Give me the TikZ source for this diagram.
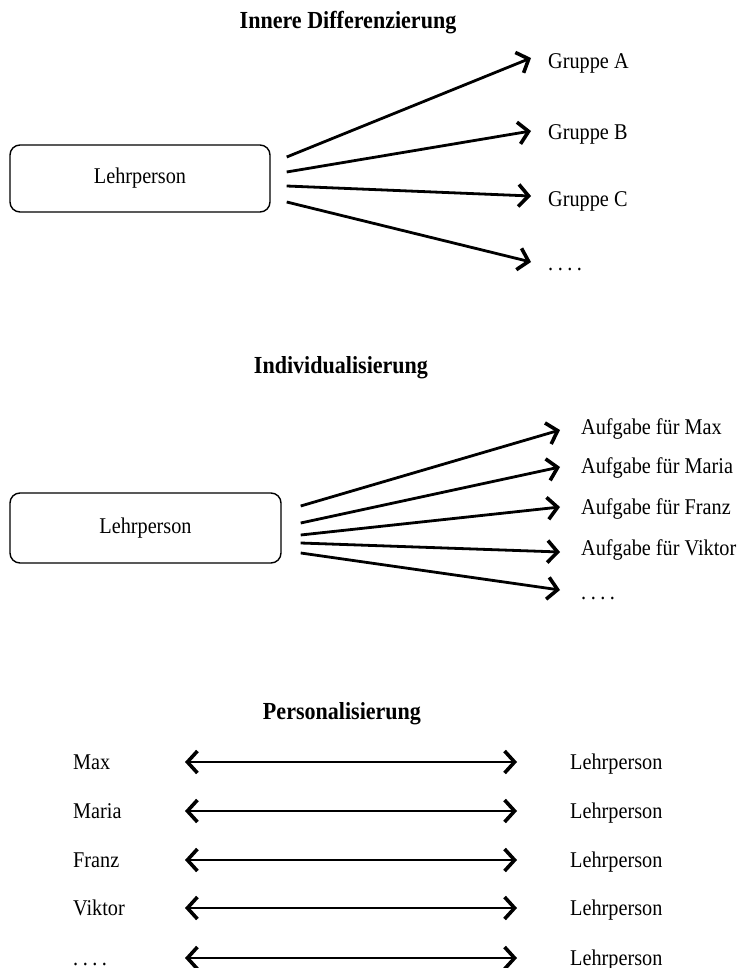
\documentclass[tikz,border=0pt]{standalone}
\usepackage{fontspec}
\setmainfont{Liberation Serif}[FakeStretch=0.9]
\usetikzlibrary{positioning,arrows.meta,calc}
\newcommand\pdots{.\hspace{4.5pt}.\hspace{4.5pt}.\hspace{4.5pt}.}

\begin{document}
\begin{tikzpicture}[
    x=1pt, y=-1pt,
    base/.style={text=black,font={\fontsize{22.5}{26}\selectfont},inner sep=0pt,anchor=base west},
    title/.style={base,anchor=base,font={\fontsize{24.5}{28}\selectfont\bfseries}},
    teacher/.style={base,anchor=center,draw,line width=1.4pt,rounded corners=10pt},
    tip/.tip={Straight Barb[length=10pt,width=22pt,line width=3.6pt]},
    link/.style={line width=2.8pt,-tip},
    both/.style={line width=2.8pt,tip-tip},
]
    \useasboundingbox (0,0) rectangle (747,968);

    % Innere Differenzierung
    \node[title] (title1) at (348,29) {Innere Differenzierung};
    \node[teacher,minimum width=260pt,minimum height=67pt] (lp1) at (140,178.5) {Lehrperson};

    \node[base] (ga) at (548,69)  {Gruppe A};
    \node[base] (gb) at (548,140) {Gruppe B};
    \node[base] (gc) at (548,207) {Gruppe C};
    \node[base] (gd) at (548,270) {\pdots};

    \draw[link] ($(lp1.east)+(16,-21.5)$) -- ($(ga.base west)+(-17,-11)$);
    \draw[link] ($(lp1.east)+(16,-6.5)$)  -- ($(gb.base west)+(-17,-9)$);
    \draw[link] ($(lp1.east)+(16,7.5)$)   -- ($(gc.base west)+(-17,-11)$);
    \draw[link] ($(lp1.east)+(16,23.5)$)  -- ($(gd.base west)+(-17,-8)$);

    % Individualisierung
    \node[title] (title2) at (341,373) {Individualisierung};
    \node[teacher,minimum width=271pt,minimum height=70pt] (lp2) at (145.5,528) {Lehrperson};

    \node[base] (amax)    at (581,434) {Aufgabe für Max};
    \node[base] (amaria)  at (581,473) {Aufgabe für Maria};
    \node[base] (afranz)  at (581,514) {Aufgabe für Franz};
    \node[base] (aviktor) at (581,555) {Aufgabe für Viktor};
    \node[base] (arest)   at (581,599) {\pdots};

    \draw[link] ($(lp2.east)+(19,-22)$) -- ($(amax.base west)+(-21,-4)$);
    \draw[link] ($(lp2.east)+(19,-5)$)  -- ($(amaria.base west)+(-21,-6)$);
    \draw[link] ($(lp2.east)+(19,7)$)   -- ($(afranz.base west)+(-21,-7)$);
    \draw[link] ($(lp2.east)+(19,15)$)  -- ($(aviktor.base west)+(-21,-3)$);
    \draw[link] ($(lp2.east)+(19,25)$)  -- ($(arest.base west)+(-21,-9)$);

    % Personalisierung
    \node[title] (title3) at (342,719) {Personalisierung};
    \foreach \who/\y [count=\i] in {Max/769, Maria/818, Franz/867, Viktor/915, \pdots/965} {
        \node[base] (p\i) at (73,\y)  {\who};
        \node[base] (l\i) at (570,\y) {Lehrperson};
        \draw[both] ($(p\i.base west)+(112,-7)$) -- ($(l\i.base west)+(-53,-7)$);
    }

\end{tikzpicture}
\end{document}
